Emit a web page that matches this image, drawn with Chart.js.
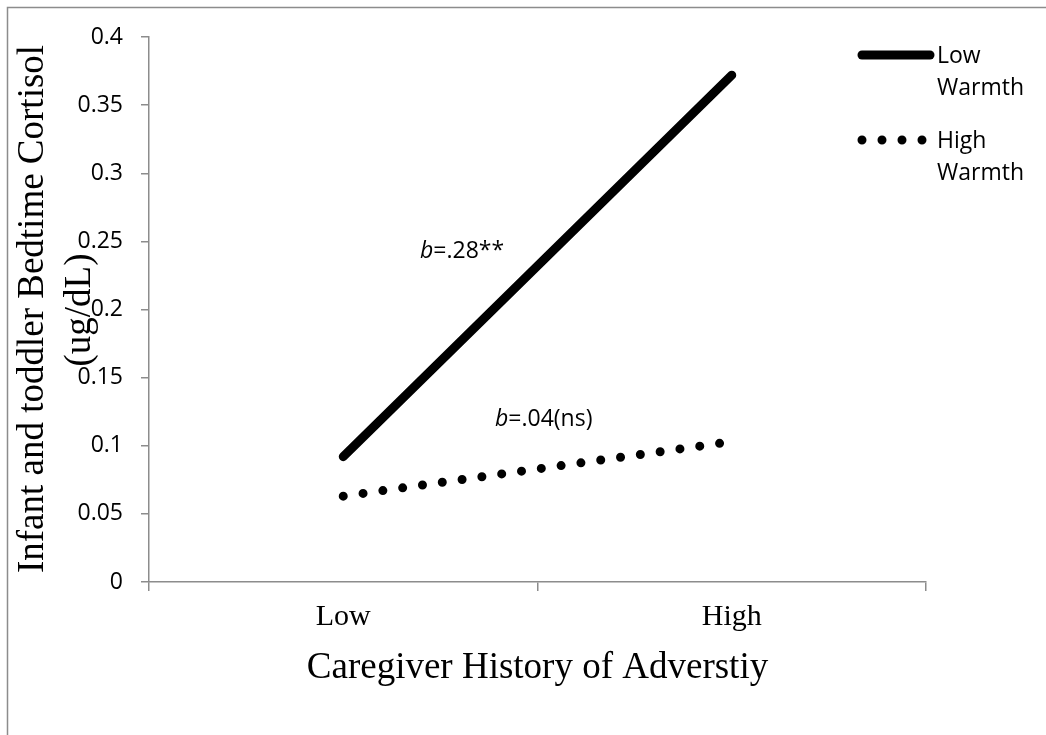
<!DOCTYPE html>
<html>
<head>
<meta charset="utf-8">
<script src="https://cdn.jsdelivr.net/npm/chart.js@4"></script>
<style>
html,body{margin:0;padding:0;background:#fff;}
canvas{display:block;}
</style>
</head>
<body>
<canvas id="c" width="1046" height="735"></canvas>
<script>
const categories = ['Low', 'High'];
const seriesNames = ['Low Warmth', 'High Warmth'];
const lowWarmth = [0.092, 0.372];
const highWarmth = [0.063, 0.103];
const yMin = 0, yMax = 0.4, yStep = 0.05;
const xTitle = 'Caregiver History of Adverstiy';
const yTitleLines = ['Infant and toddler Bedtime Cortisol', '(ug/dL)'];
const annotations = [
  { b: 'b', rest: '=.28**' },
  { b: 'b', rest: '=.04(ns)' }
];

const SANS = '"Open Sans", sans-serif';
const SERIF = '"Liberation Serif", "Times New Roman", serif';
const AXIS = '#8c8c8c';

const decor = {
  id: 'decor',
  beforeDraw(chart) {
    const ctx = chart.ctx;
    ctx.save();
    ctx.fillStyle = '#fff';
    ctx.fillRect(0, 0, chart.width, chart.height);
    ctx.strokeStyle = AXIS;
    ctx.lineWidth = 1.5;
    ctx.strokeRect(7.5, 7.5, 1200, 1200);
    ctx.restore();
  },
  afterDraw(chart) {
    const ctx = chart.ctx;
    const ca = chart.chartArea;
    ctx.save();
    ctx.fillStyle = '#000';
    // x title
    ctx.font = '37px ' + SERIF;
    ctx.textAlign = 'center';
    ctx.textBaseline = 'alphabetic';
    ctx.fillText(xTitle, (ca.left + ca.right) / 2, 678);
    // y title (two lines)
    ctx.font = '37px ' + SERIF;
    ctx.save();
    ctx.translate(43, 309);
    ctx.rotate(-Math.PI / 2);
    ctx.fillText(yTitleLines[0], 0, 0);
    ctx.restore();
    ctx.save();
    ctx.translate(90, 310);
    ctx.rotate(-Math.PI / 2);
    ctx.fillText(yTitleLines[1], 0, 0);
    ctx.restore();
    // annotations
    ctx.textAlign = 'left';
    const pos = [[420, 258], [495, 426]];
    annotations.forEach((a, i) => {
      ctx.font = 'italic 23px ' + SANS;
      ctx.fillText(a.b, pos[i][0], pos[i][1]);
      const w = ctx.measureText(a.b).width;
      ctx.font = '23px ' + SANS;
      ctx.fillText(a.rest, pos[i][0] + w, pos[i][1]);
    });
    // legend
    ctx.strokeStyle = '#000';
    ctx.lineCap = 'round';
    ctx.lineWidth = 9;
    ctx.beginPath();
    ctx.moveTo(862, 55);
    ctx.lineTo(930, 55);
    ctx.stroke();
    ctx.setLineDash([0, 20]);
    ctx.beginPath();
    ctx.moveTo(862, 140);
    ctx.lineTo(923, 140);
    ctx.stroke();
    ctx.setLineDash([]);
    ctx.font = '23px ' + SANS;
    const l1 = seriesNames[0].split(' ');
    const l2 = seriesNames[1].split(' ');
    ctx.fillText(l1[0], 937, 63);
    ctx.fillText(l1[1], 937, 95);
    ctx.fillText(l2[0], 937, 148);
    ctx.fillText(l2[1], 937, 180);
    ctx.restore();
  }
};

new Chart(document.getElementById('c'), {
  type: 'line',
  data: {
    labels: categories,
    datasets: [
      {
        label: seriesNames[0],
        data: lowWarmth,
        borderColor: '#000',
        borderWidth: 9,
        borderCapStyle: 'round',
        pointRadius: 0,
        tension: 0
      },
      {
        label: seriesNames[1],
        data: highWarmth,
        borderColor: '#000',
        borderWidth: 9,
        borderCapStyle: 'round',
        borderDash: [0, 20],
        pointRadius: 0,
        tension: 0
      }
    ]
  },
  options: {
    responsive: false,
    animation: false,
    devicePixelRatio: 1,
    layout: { padding: { left: 0, top: 37, right: 120, bottom: 0 } },
    plugins: { legend: { display: false }, tooltip: { enabled: false } },
    scales: {
      x: {
        type: 'category',
        offset: true,
        grid: { offset: true, drawOnChartArea: false, drawTicks: true, tickLength: 9, color: AXIS, lineWidth: 1.5 },
        border: { color: AXIS, width: 1.5 },
        ticks: { color: '#000', font: { family: SERIF, size: 30 }, padding: 8, maxRotation: 0 },
        afterFit(s) { s.height = 153; }
      },
      y: {
        min: yMin, max: yMax,
        grid: { drawOnChartArea: false, drawTicks: true, tickLength: 8, color: AXIS, lineWidth: 1.5 },
        border: { color: AXIS, width: 1.5 },
        ticks: {
          stepSize: yStep,
          color: '#000',
          font: { family: SANS, size: 23 },
          padding: 18,
          callback: v => String(Number(v.toFixed(2)))
        },
        afterFit(s) { s.width = 149; }
      }
    }
  },
  plugins: [decor]
});
</script>
</body>
</html>
